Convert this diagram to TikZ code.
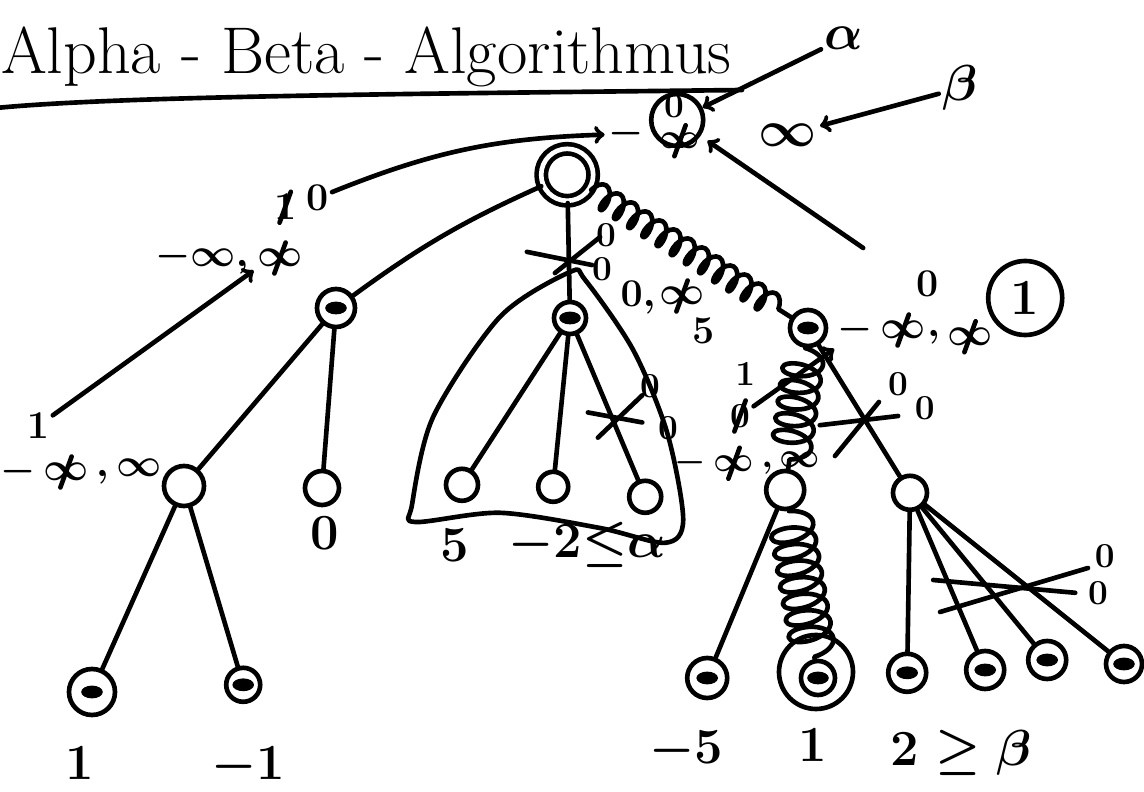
\documentclass[tikz,border=0pt]{standalone}
\usepackage{fix-cm}
\usepackage{amsmath}
\usepackage{tikz}
\usetikzlibrary{positioning,decorations.pathmorphing}

\begin{document}
\begin{tikzpicture}[line width=3.3pt, line cap=round, line join=round,
  knot/.style={circle, draw, minimum size=#1, inner sep=0pt},
  knot/.default=0.85cm,
  blob/.style={knot=#1, path picture={\fill (path picture bounding box.center) ellipse (0.27 and 0.16);}},
  blob/.default=0.95cm,
  big/.style={font=\fontsize{36}{40}\selectfont\boldmath, inner sep=1pt},
  mid/.style={font=\fontsize{28}{32}\selectfont\boldmath, inner sep=1pt},
  small/.style={font=\fontsize{25}{28}\selectfont\boldmath, inner sep=1pt},
  struck/.style={append after command={([shift={(-4pt,-11pt)}]\tikzlastnode.center) edge ([shift={(4pt,11pt)}]\tikzlastnode.center)}},
  spring/.style={decorate, decoration={coil, amplitude=#1, segment length=0.42cm}},
  spring/.default=0.3cm]
\useasboundingbox (0,0) rectangle (28.6,19.8);
% title
\node[anchor=base west, font=\fontsize{47}{52}\selectfont] (title) at (-0.15,17.95) {Alpha - Beta - Algorithmus};
\draw (-0.1,17.1) .. controls (3,17.4) and (10,17.45) .. (18.55,17.55);
% root with alpha and beta
\node[knot=1.3cm, double, double distance=3.3pt] (root) at (14.18,15.43) {};
\node[mid] (aminus) at (15.65,16.45) {$-$};
\node[knot=1.3cm] (aval) at (16.93,16.8) {};
\node[small] (azero) at (16.85,17.15) {$0$};
\node[small,struck] (ainf) at (17.0,16.28) {$\infty$};
\node[big] (binf) at (19.68,16.43) {$\infty$};
\node[big] (alpha) at (21.1,18.85) {$\alpha$};
\node[big] (beta) at (24.0,17.6) {$\beta$};
\coordinate (rnote) at (21.58,13.6);
% level 1
\node[blob] (L) at (8.4,12.1) {};
\node[blob=0.8cm] (M) at (14.25,11.85) {};
\node[blob=0.9cm] (R) at (20.2,11.6) {};
% level 2
\node[knot=1.0cm] (ll) at (4.6,7.65) {};
\node[knot] (lr) at (8.05,7.6) {};
\node[knot=0.8cm] (m1) at (11.55,7.68) {};
\node[knot=0.75cm] (m2) at (13.83,7.63) {};
\node[knot=0.8cm] (m3) at (16.13,7.38) {};
\node[knot=0.95cm] (rl) at (19.63,7.55) {};
\node[knot] (rr) at (22.75,7.48) {};
% level 3
\node[blob=1.15cm] (lll) at (2.3,2.5) {};
\node[blob=0.85cm] (llr) at (6.08,2.68) {};
\node[blob=1.0cm] (rll) at (17.68,2.85) {};
\node[knot=1.85cm] (ring) at (20.4,3.0) {};
\node[blob=0.85cm] (rlr) at (20.45,2.85) {};
\node[blob] (rr1) at (22.68,2.98) {};
\node[blob] (rr2) at (24.63,3.05) {};
\node[blob] (rr3) at (26.18,3.3) {};
\node[blob=0.9cm] (rr4) at (28.1,3.2) {};
% edges
\draw (root) to[bend right=6] (L);
\draw (root) -- (M) coordinate[pos=0.6] (xM);
\draw[spring] (root) -- (R);
\draw (L) -- (ll);
\draw (L) -- (lr);
\draw (ll) -- (lll);
\draw (ll) -- (llr);
\draw (M) -- (m1);
\draw (M) -- (m2);
\draw (M) -- (m3) coordinate[pos=0.59] (xm3);
\draw[spring=0.5cm] (R) -- (rl);
\draw (R) -- (rr) coordinate[pos=0.57] (xR);
\draw (rl) -- (rll);
\draw[spring=0.55cm] (rl) -- (rlr);
\foreach \k in {rr1,rr2,rr3,rr4} \draw (rr) -- (\k);
% cut offs
\draw ([shift={(-1.05,0.23)}]xM) -- ([shift={(0.58,-0.1)}]xM);
\draw ([shift={(-0.35,-0.3)}]xM) -- ([shift={(0.78,0.6)}]xM);
\node[small] (xMa) at (15.15,13.92) {$0$};
\node[small] (xMb) at (15.05,13.08) {$0$};
\draw ([shift={(-0.63,0.2)}]xm3) -- ([shift={(0.73,-0.05)}]xm3);
\draw ([shift={(-0.38,-0.43)}]xm3) -- ([shift={(0.73,0.63)}]xm3);
\node[small] (xm3a) at (16.25,10.15) {$0$};
\node[small] (xm3b) at (16.7,9.1) {$0$};
\draw ([shift={(-1.13,-0.13)}]xR) -- ([shift={(0.83,0.1)}]xR);
\draw ([shift={(-0.75,-0.9)}]xR) -- ([shift={(0.35,0.45)}]xR);
\node[small] (xRa) at (22.45,10.2) {$0$};
\node[small] (xRb) at (23.12,9.6) {$0$};
\coordinate (xrr) at (25.25,5.05);
\draw ([shift={(-1.92,0.25)}]xrr) -- ([shift={(1.63,-0.07)}]xrr);
\draw ([shift={(-1.75,-0.55)}]xrr) -- ([shift={(1.95,0.55)}]xrr);
\node[small] (xrra) at (27.62,5.9) {$0$};
\node[small] (xrrb) at (27.45,4.98) {$0$};
% middle subtree
\draw plot[smooth cycle, tension=0.5] coordinates {(14.25,13.0) (12.5,11.88) (10.83,9.38) (10.3,7.18) (10.38,6.75) (12.5,6.98) (15.0,6.6) (16.63,6.23) (17.08,6.8) (16.68,8.98) (15.83,11.05) (14.63,12.8)};
% windows
\node[mid,struck] (Linf) at (7.0,13.35) {$\infty$};
\node[mid,left=1pt of Linf] (Lminf) {$-\infty,$};
\node[mid,struck] (lone) at (7.13,14.62) {$1$};
\node[mid] (lzero) at (7.93,14.85) {$0$};
\node[mid,struck] (llinf) at (1.65,8.0) {$\infty$};
\node[mid,left=0pt of llinf] (llm) {$-$};
\node[mid,right=0pt of llinf] (llrest) {$,\infty$};
\node[mid] (llone) at (0.95,9.15) {$1$};
\node[mid] (Mzero) at (15.95,12.35) {$0,$};
\node[mid,struck] (Minf) at (17.05,12.4) {$\infty$};
\node[mid] (Mfive) at (17.58,11.53) {$5$};
\node[mid,struck] (Rinf1) at (22.58,11.55) {$\infty$};
\node[mid,left=0pt of Rinf1] (Rm) {$-$};
\node[mid] (Rzero) at (23.18,12.7) {$0$};
\node[mid,struck] (Rinf2) at (24.25,11.38) {$\infty$};
\node[mid,left=0pt of Rinf2] (Rcomma) {$,$};
\node[knot=1.85cm, big] (Rone) at (25.63,12.35) {$1$};
\node[small] (rlone) at (18.63,10.45) {$1$};
\node[small,struck] (rlzero) at (18.5,9.4) {$0$};
\node[small,struck] (rlinf) at (18.35,8.22) {$\infty$};
\node[small,left=0pt of rlinf] (rlm) {$-$};
\node[small,right=0pt of rlinf] (rlrest) {$,\infty$};
% values
\node[big,anchor=base] (v1) at (2.0,0.3) {$1$};
\node[big,anchor=base] (v2) at (6.2,0.3) {$-1$};
\node[big,anchor=base] (lrval) at (8.13,6.05) {$0$};
\node[big,anchor=base] (v3) at (11.38,5.75) {$5$};
\node[big,anchor=base] (v4) at (14.68,5.85) {$-2{\leq}\alpha$};
\node[big,anchor=base] (v5) at (17.15,0.72) {$-5$};
\node[big,anchor=base] (v6) at (20.33,0.75) {$1$};
\node[big,anchor=base] (v7) at (24.03,0.67) {$2\geq\beta$};
% arrows
\draw[->] (alpha) -- (aval);
\draw[->] (beta) -- (binf);
\draw[->, shorten >=6pt] (rnote) -- (aval);
\draw[->] (lzero) to[bend left=10] (aminus);
\draw[->] (llone) -- (Linf.south west);
\draw[->] (rlzero) -- (Rm.south west);
\end{tikzpicture}
\end{document}
